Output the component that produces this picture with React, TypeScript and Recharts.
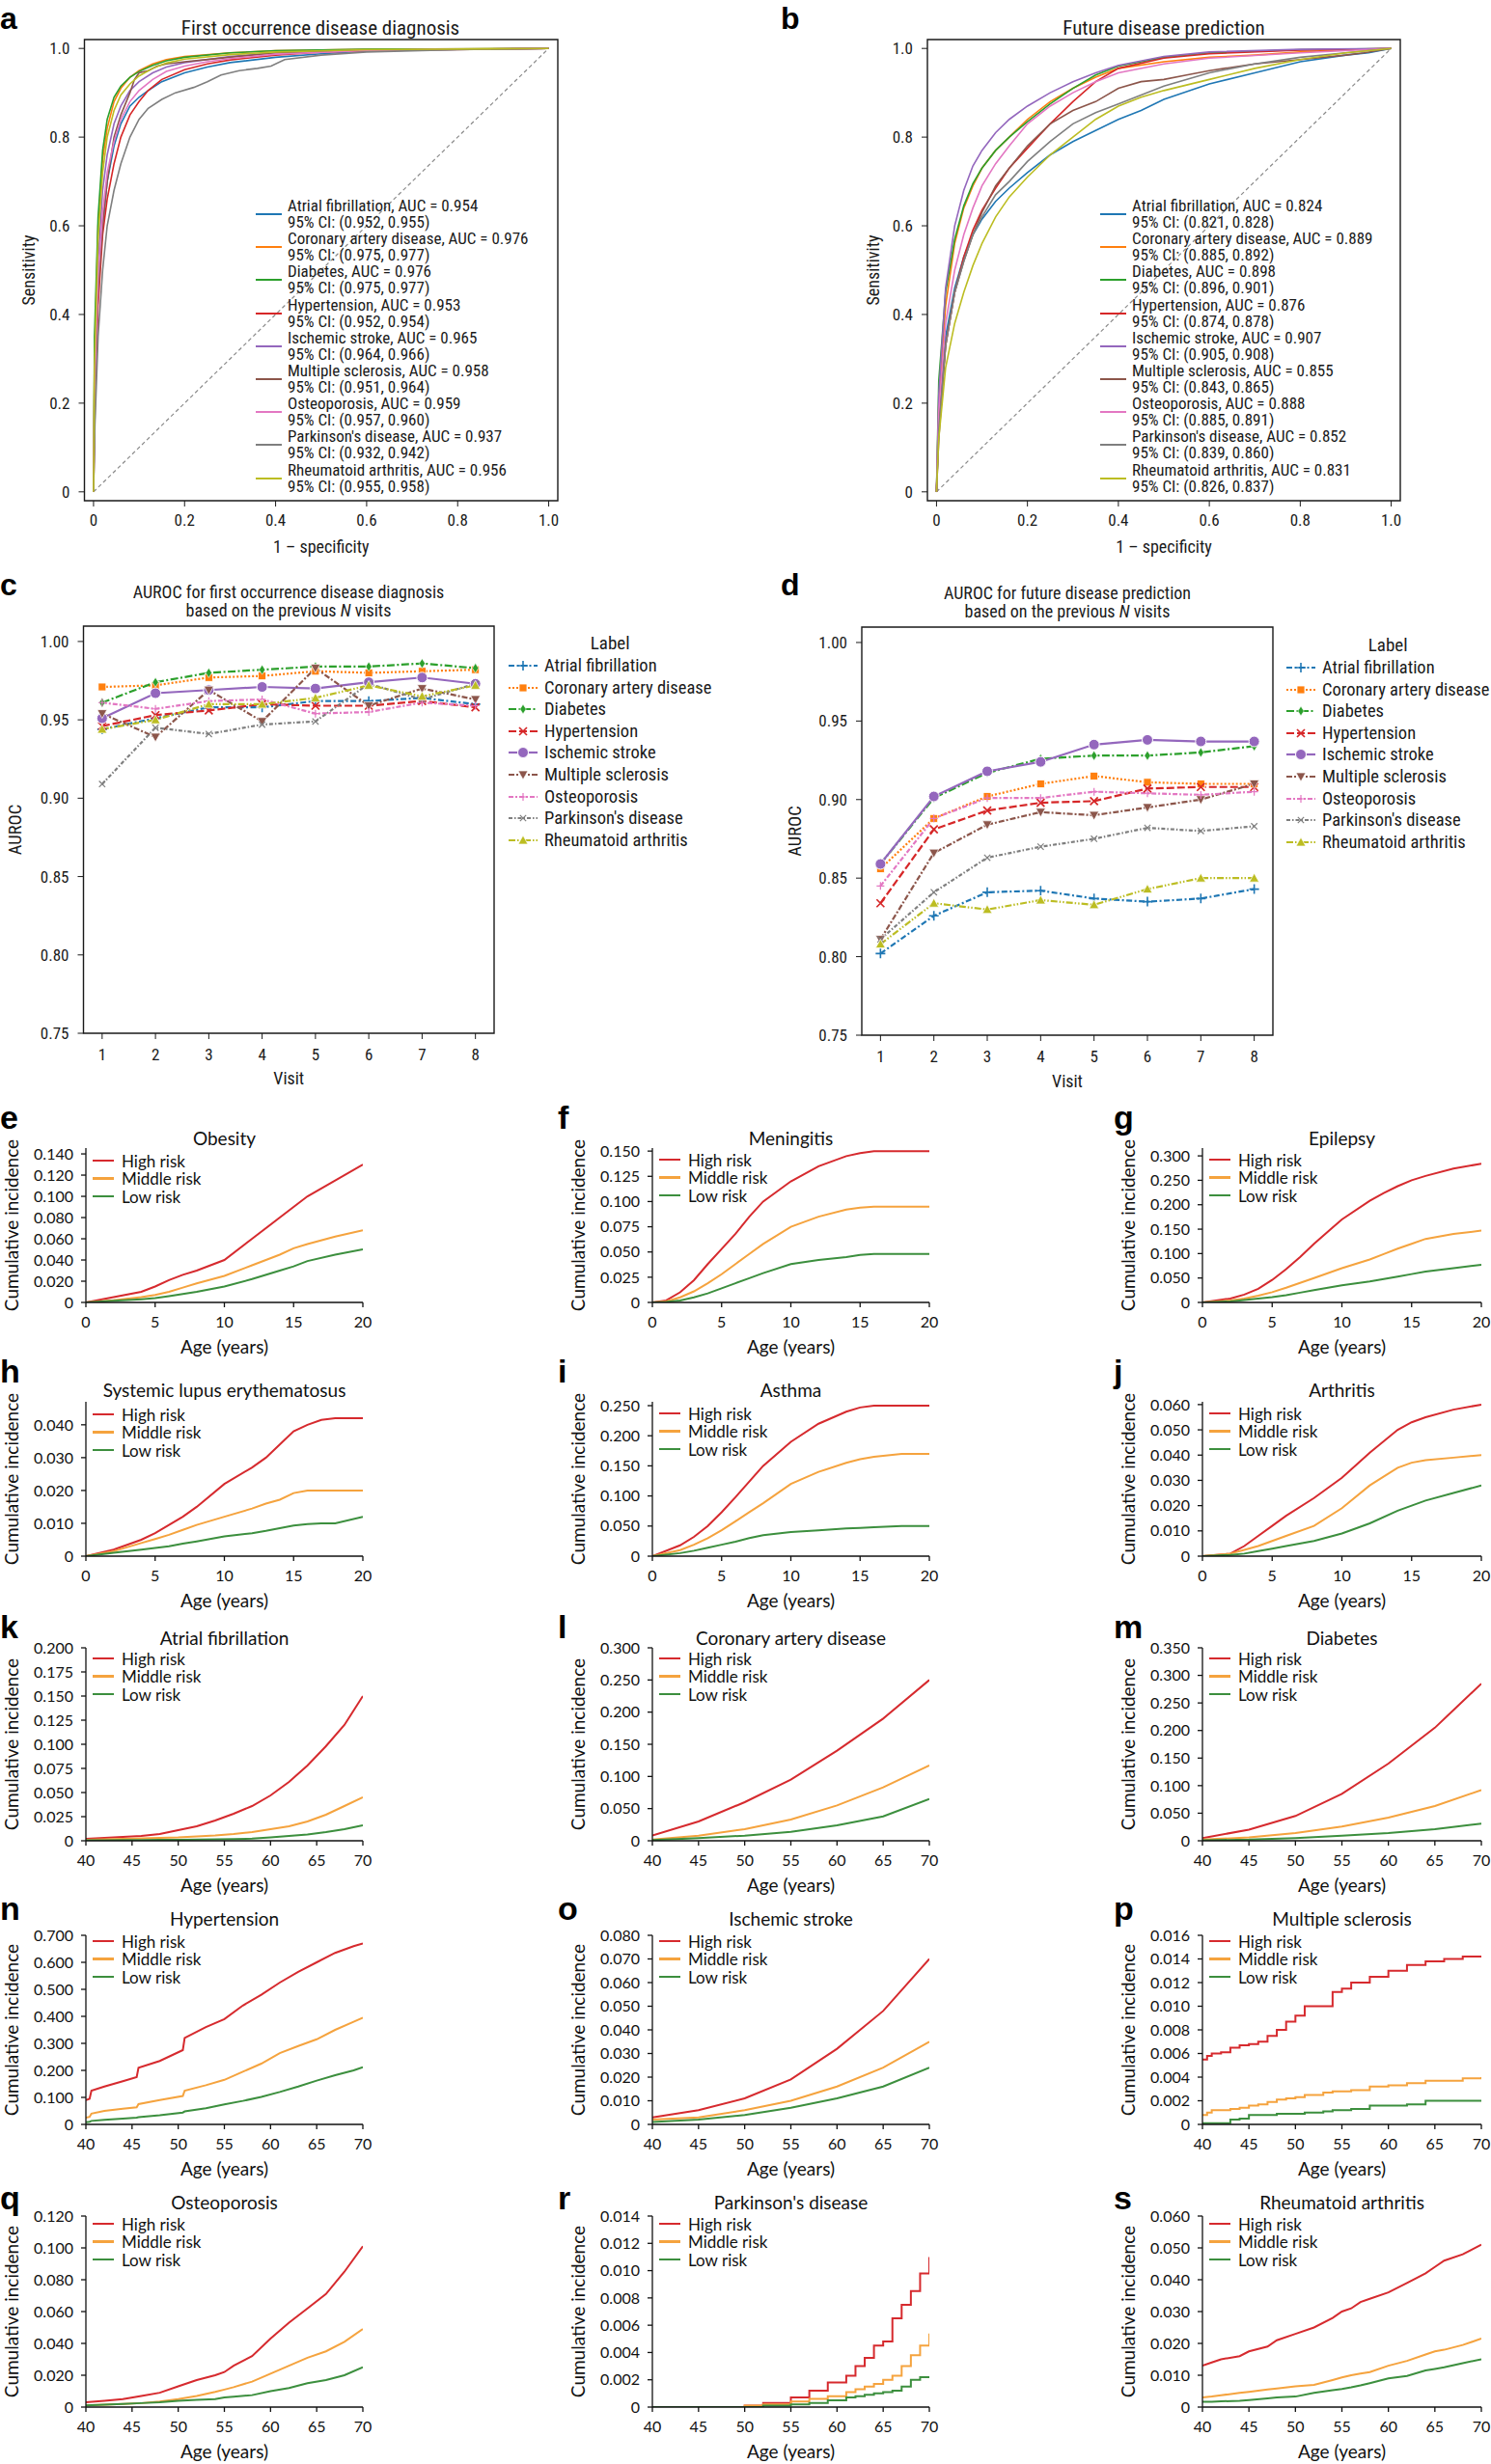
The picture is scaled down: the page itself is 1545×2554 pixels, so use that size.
import React from 'react';
import { LineChart, Line, XAxis, YAxis, ReferenceLine, ReferenceArea, Legend } from 'recharts';

const COND = "'Liberation Sans Narrow', 'Roboto Condensed', Roboto, sans-serif";
const GEO = "Lato, 'Noto Sans', sans-serif";
const INK = '#1a1a1a';

// ---------------- ROC panels ----------------
const diseases = ['Atrial fibrillation', 'Coronary artery disease', 'Diabetes', 'Hypertension', 'Ischemic stroke', 'Multiple sclerosis', 'Osteoporosis', "Parkinson's disease", 'Rheumatoid arthritis'];
const diseaseColors = ['#1f77b4', '#ff7f0e', '#2ca02c', '#d62728', '#9467bd', '#8c564b', '#e377c2', '#7f7f7f', '#bcbd22'];
const firstAuc = ['0.954', '0.976', '0.976', '0.953', '0.965', '0.958', '0.959', '0.937', '0.956'];
const firstCi = ['(0.952, 0.955)', '(0.975, 0.977)', '(0.975, 0.977)', '(0.952, 0.954)', '(0.964, 0.966)', '(0.951, 0.964)', '(0.957, 0.960)', '(0.932, 0.942)', '(0.955, 0.958)'];
const futureAuc = ['0.824', '0.889', '0.898', '0.876', '0.907', '0.855', '0.888', '0.852', '0.831'];
const futureCi = ['(0.821, 0.828)', '(0.885, 0.892)', '(0.896, 0.901)', '(0.874, 0.878)', '(0.905, 0.908)', '(0.843, 0.865)', '(0.885, 0.891)', '(0.839, 0.860)', '(0.826, 0.837)'];
const rocTicks = [0, 0.2, 0.4, 0.6, 0.8, 1.0];
const rocTickLabels = ['0', '0.2', '0.4', '0.6', '0.8', '1.0'];

type Pt = [number, number];
// first occurrence (fpr, tpr)
const firstAF: Pt[] = [[0, 0], [0.002, 0.2], [0.01, 0.45], [0.02, 0.6], [0.03, 0.7], [0.045, 0.78], [0.06, 0.83], [0.08, 0.87], [0.1, 0.89], [0.12, 0.905], [0.15, 0.925], [0.2, 0.945], [0.25, 0.958], [0.3, 0.968], [0.4, 0.98], [0.5, 0.988], [0.6, 0.994], [0.8, 0.998], [1, 1]];
const firstCAD: Pt[] = [[0, 0], [0.002, 0.3], [0.01, 0.6], [0.02, 0.75], [0.03, 0.82], [0.045, 0.88], [0.06, 0.91], [0.08, 0.935], [0.1, 0.95], [0.13, 0.965], [0.16, 0.975], [0.2, 0.982], [0.3, 0.99], [0.4, 0.995], [0.6, 0.998], [1, 1]];
const firstDiab: Pt[] = [[0, 0], [0.002, 0.35], [0.01, 0.62], [0.02, 0.77], [0.03, 0.84], [0.045, 0.89], [0.06, 0.915], [0.08, 0.935], [0.1, 0.948], [0.13, 0.962], [0.16, 0.972], [0.2, 0.98], [0.3, 0.99], [0.4, 0.995], [0.6, 0.998], [1, 1]];
const firstHyp: Pt[] = [[0, 0], [0.003, 0.2], [0.01, 0.42], [0.02, 0.58], [0.03, 0.66], [0.045, 0.74], [0.06, 0.8], [0.08, 0.85], [0.1, 0.88], [0.12, 0.905], [0.15, 0.93], [0.2, 0.952], [0.25, 0.965], [0.3, 0.974], [0.4, 0.985], [0.5, 0.992], [0.7, 0.997], [1, 1]];
const firstIsch: Pt[] = [[0, 0], [0.002, 0.25], [0.01, 0.52], [0.02, 0.68], [0.03, 0.76], [0.045, 0.83], [0.06, 0.87], [0.08, 0.905], [0.1, 0.925], [0.13, 0.945], [0.16, 0.958], [0.2, 0.968], [0.3, 0.982], [0.4, 0.99], [0.6, 0.996], [1, 1]];
const firstMS: Pt[] = [[0, 0], [0.005, 0.3], [0.01, 0.45], [0.02, 0.6], [0.03, 0.7], [0.045, 0.8], [0.06, 0.85], [0.08, 0.9], [0.09, 0.93], [0.1, 0.945], [0.12, 0.95], [0.14, 0.96], [0.16, 0.965], [0.2, 0.97], [0.3, 0.98], [0.4, 0.99], [0.6, 0.995], [1, 1]];
const firstOst: Pt[] = [[0, 0], [0.002, 0.22], [0.01, 0.48], [0.02, 0.63], [0.03, 0.72], [0.045, 0.79], [0.06, 0.84], [0.08, 0.88], [0.1, 0.905], [0.13, 0.93], [0.16, 0.948], [0.2, 0.96], [0.25, 0.97], [0.3, 0.977], [0.4, 0.987], [0.6, 0.995], [1, 1]];
const firstPark: Pt[] = [[0, 0], [0.003, 0.15], [0.01, 0.35], [0.02, 0.5], [0.03, 0.6], [0.045, 0.68], [0.06, 0.74], [0.08, 0.8], [0.1, 0.84], [0.12, 0.865], [0.15, 0.885], [0.18, 0.9], [0.22, 0.912], [0.25, 0.925], [0.28, 0.94], [0.32, 0.95], [0.36, 0.955], [0.39, 0.96], [0.42, 0.975], [0.5, 0.985], [0.6, 0.992], [0.8, 0.997], [1, 1]];
const firstRA: Pt[] = [[0, 0], [0.002, 0.28], [0.01, 0.57], [0.02, 0.72], [0.03, 0.8], [0.045, 0.86], [0.06, 0.895], [0.08, 0.92], [0.1, 0.938], [0.13, 0.955], [0.16, 0.967], [0.2, 0.976], [0.3, 0.986], [0.4, 0.992], [0.6, 0.997], [1, 1]];
// future prediction (fpr, tpr)
const futAF: Pt[] = [[0, 0], [0.005, 0.15], [0.02, 0.35], [0.04, 0.46], [0.06, 0.53], [0.08, 0.58], [0.1, 0.615], [0.13, 0.655], [0.16, 0.685], [0.2, 0.72], [0.25, 0.76], [0.3, 0.79], [0.35, 0.815], [0.4, 0.84], [0.45, 0.86], [0.5, 0.885], [0.6, 0.92], [0.7, 0.945], [0.8, 0.97], [0.9, 0.985], [0.95, 0.99], [1, 1]];
const futCAD: Pt[] = [[0, 0], [0.005, 0.2], [0.02, 0.42], [0.04, 0.56], [0.06, 0.64], [0.08, 0.69], [0.1, 0.73], [0.13, 0.77], [0.16, 0.8], [0.2, 0.84], [0.25, 0.88], [0.3, 0.91], [0.35, 0.935], [0.4, 0.955], [0.5, 0.97], [0.6, 0.98], [0.7, 0.985], [0.8, 0.992], [0.9, 0.997], [1, 1]];
const futDiab: Pt[] = [[0, 0], [0.005, 0.25], [0.02, 0.45], [0.04, 0.57], [0.06, 0.645], [0.08, 0.695], [0.1, 0.73], [0.13, 0.77], [0.16, 0.8], [0.2, 0.835], [0.25, 0.875], [0.3, 0.91], [0.35, 0.94], [0.4, 0.96], [0.5, 0.98], [0.6, 0.99], [0.8, 0.997], [1, 1]];
const futHyp: Pt[] = [[0, 0], [0.005, 0.15], [0.02, 0.33], [0.04, 0.45], [0.06, 0.53], [0.08, 0.59], [0.1, 0.635], [0.13, 0.685], [0.16, 0.73], [0.2, 0.775], [0.25, 0.83], [0.3, 0.88], [0.35, 0.925], [0.4, 0.955], [0.5, 0.978], [0.6, 0.988], [0.8, 0.996], [1, 1]];
const futIsch: Pt[] = [[0, 0], [0.005, 0.22], [0.02, 0.46], [0.04, 0.6], [0.06, 0.68], [0.08, 0.735], [0.1, 0.77], [0.13, 0.81], [0.16, 0.84], [0.2, 0.87], [0.25, 0.9], [0.3, 0.925], [0.35, 0.945], [0.4, 0.962], [0.5, 0.982], [0.6, 0.992], [0.8, 0.998], [1, 1]];
const futMS: Pt[] = [[0, 0], [0.005, 0.12], [0.02, 0.33], [0.04, 0.45], [0.06, 0.52], [0.08, 0.58], [0.1, 0.63], [0.13, 0.69], [0.16, 0.73], [0.2, 0.78], [0.22, 0.8], [0.25, 0.83], [0.3, 0.86], [0.35, 0.88], [0.4, 0.91], [0.45, 0.925], [0.5, 0.93], [0.55, 0.94], [0.6, 0.95], [0.7, 0.965], [0.8, 0.975], [0.9, 0.985], [0.94, 0.99], [1, 1]];
const futOst: Pt[] = [[0, 0], [0.005, 0.18], [0.02, 0.38], [0.04, 0.5], [0.06, 0.58], [0.08, 0.64], [0.1, 0.69], [0.13, 0.74], [0.16, 0.78], [0.2, 0.83], [0.25, 0.87], [0.3, 0.9], [0.35, 0.925], [0.4, 0.945], [0.5, 0.965], [0.6, 0.978], [0.8, 0.99], [1, 1]];
const futPark: Pt[] = [[0, 0], [0.005, 0.14], [0.02, 0.33], [0.04, 0.45], [0.06, 0.52], [0.08, 0.58], [0.1, 0.62], [0.13, 0.67], [0.16, 0.7], [0.2, 0.745], [0.25, 0.79], [0.3, 0.83], [0.35, 0.855], [0.4, 0.875], [0.45, 0.895], [0.5, 0.915], [0.6, 0.945], [0.7, 0.965], [0.8, 0.98], [0.9, 0.99], [1, 1]];
const futRA: Pt[] = [[0, 0], [0.005, 0.12], [0.02, 0.28], [0.04, 0.38], [0.06, 0.45], [0.08, 0.51], [0.1, 0.56], [0.13, 0.62], [0.16, 0.665], [0.2, 0.71], [0.25, 0.76], [0.3, 0.8], [0.35, 0.84], [0.4, 0.87], [0.45, 0.89], [0.5, 0.905], [0.6, 0.93], [0.7, 0.955], [0.8, 0.975], [0.9, 0.99], [1, 1]];
const firstCurves = [firstAF, firstCAD, firstDiab, firstHyp, firstIsch, firstMS, firstOst, firstPark, firstRA];
const futureCurves = [futAF, futCAD, futDiab, futHyp, futIsch, futMS, futOst, futPark, futRA];

// ---------------- AUROC by visit ----------------
const visits = [1, 2, 3, 4, 5, 6, 7, 8];
const vFirstAF = [0.944, 0.951, 0.958, 0.958, 0.962, 0.962, 0.964, 0.960];
const vFirstCAD = [0.971, 0.972, 0.977, 0.978, 0.981, 0.980, 0.981, 0.982];
const vFirstDiab = [0.961, 0.974, 0.980, 0.982, 0.984, 0.984, 0.986, 0.983];
const vFirstHyp = [0.946, 0.953, 0.956, 0.960, 0.959, 0.959, 0.962, 0.958];
const vFirstIsch = [0.951, 0.967, 0.969, 0.971, 0.970, 0.974, 0.977, 0.973];
const vFirstMS = [0.954, 0.939, 0.969, 0.949, 0.983, 0.959, 0.970, 0.963];
const vFirstOst = [0.961, 0.957, 0.962, 0.963, 0.954, 0.955, 0.961, 0.959];
const vFirstPark = [0.909, 0.945, 0.941, 0.947, 0.949, 0.973, 0.963, 0.973];
const vFirstRA = [0.944, 0.950, 0.960, 0.960, 0.964, 0.972, 0.965, 0.972];
const vFutAF = [0.802, 0.826, 0.841, 0.842, 0.837, 0.835, 0.837, 0.843];
const vFutCAD = [0.856, 0.888, 0.902, 0.910, 0.915, 0.911, 0.910, 0.910];
const vFutDiab = [0.859, 0.901, 0.917, 0.926, 0.928, 0.928, 0.930, 0.934];
const vFutHyp = [0.834, 0.881, 0.893, 0.898, 0.899, 0.907, 0.908, 0.908];
const vFutIsch = [0.859, 0.902, 0.918, 0.924, 0.935, 0.938, 0.937, 0.937];
const vFutMS = [0.811, 0.866, 0.884, 0.892, 0.890, 0.895, 0.900, 0.910];
const vFutOst = [0.845, 0.888, 0.901, 0.901, 0.905, 0.904, 0.903, 0.905];
const vFutPark = [0.811, 0.841, 0.863, 0.870, 0.875, 0.882, 0.880, 0.883];
const vFutRA = [0.808, 0.834, 0.830, 0.836, 0.833, 0.843, 0.850, 0.850];
const visitFirst = [vFirstAF, vFirstCAD, vFirstDiab, vFirstHyp, vFirstIsch, vFirstMS, vFirstOst, vFirstPark, vFirstRA];
const visitFuture = [vFutAF, vFutCAD, vFutDiab, vFutHyp, vFutIsch, vFutMS, vFutOst, vFutPark, vFutRA];
const aurocTicks = [0.75, 0.8, 0.85, 0.9, 0.95, 1.0];
const markerKinds = ['plus', 'square', 'diamond', 'x', 'circle', 'tridown', 'plusthin', 'xthin', 'triup'];
const dashPatterns = ['6 2.5 2 2.5', '2 2', '8 2.5 2 2.5', '8 3', '', '6 2 2 2', '5 2 2 2', '4 2 1.5 2', '7 2 1.5 2 1.5 2'];

// ---------------- Cumulative incidence ----------------
const riskNames = ['High risk', 'Middle risk', 'Low risk'];
const riskColors = ['#d62a2e', '#f5a33e', '#3c8f3e'];
const childAgeTicks = [0, 5, 10, 15, 20];
const adultAgeTicks = [40, 45, 50, 55, 60, 65, 70];

const obesityAge = [0, 2, 4, 5, 6, 7, 8, 10, 12, 14, 15, 16, 18, 20];
const obesityHigh = [0, 0.005, 0.010, 0.015, 0.021, 0.026, 0.030, 0.040, 0.060, 0.080, 0.090, 0.100, 0.115, 0.130];
const obesityMid = [0, 0.002, 0.005, 0.007, 0.010, 0.014, 0.018, 0.025, 0.035, 0.045, 0.051, 0.055, 0.062, 0.068];
const obesityLow = [0, 0.0015, 0.003, 0.004, 0.006, 0.008, 0.010, 0.015, 0.022, 0.030, 0.034, 0.039, 0.045, 0.050];
const obesityTicks = [0, 0.02, 0.04, 0.06, 0.08, 0.10, 0.12, 0.14];

const meningAge = [0, 1, 2, 3, 4, 5, 6, 7, 8, 10, 12, 14, 15, 16, 18, 20];
const meningHigh = [0, 0.002, 0.010, 0.022, 0.038, 0.053, 0.068, 0.085, 0.100, 0.120, 0.135, 0.145, 0.148, 0.150, 0.150, 0.150];
const meningMid = [0, 0.001, 0.005, 0.011, 0.019, 0.028, 0.038, 0.048, 0.058, 0.075, 0.085, 0.092, 0.094, 0.095, 0.095, 0.095];
const meningLow = [0, 0.0005, 0.002, 0.005, 0.009, 0.014, 0.019, 0.024, 0.029, 0.038, 0.042, 0.045, 0.047, 0.048, 0.048, 0.048];
const meningTicks = [0, 0.025, 0.05, 0.075, 0.1, 0.125, 0.15];

const epiAge = [0, 2, 3, 4, 5, 6, 7, 8, 10, 12, 13, 14, 15, 16, 18, 20];
const epiHigh = [0, 0.008, 0.016, 0.028, 0.046, 0.068, 0.093, 0.120, 0.170, 0.208, 0.224, 0.238, 0.250, 0.259, 0.274, 0.284];
const epiMid = [0, 0.004, 0.008, 0.014, 0.021, 0.030, 0.040, 0.050, 0.070, 0.088, 0.099, 0.110, 0.120, 0.130, 0.140, 0.147];
const epiLow = [0, 0.002, 0.005, 0.008, 0.011, 0.015, 0.020, 0.025, 0.035, 0.043, 0.048, 0.053, 0.058, 0.063, 0.070, 0.077];
const epiTicks = [0, 0.05, 0.1, 0.15, 0.2, 0.25, 0.3];

const sleAge = [0, 2, 4, 5, 6, 7, 8, 10, 12, 13, 14, 15, 16, 17, 18, 20];
const sleHigh = [0, 0.002, 0.005, 0.007, 0.0095, 0.012, 0.015, 0.022, 0.027, 0.030, 0.034, 0.038, 0.040, 0.0415, 0.042, 0.042];
const sleMid = [0, 0.0015, 0.004, 0.0052, 0.0065, 0.008, 0.0095, 0.012, 0.0145, 0.016, 0.0172, 0.0192, 0.020, 0.020, 0.020, 0.020];
const sleLow = [0, 0.001, 0.002, 0.0025, 0.003, 0.0038, 0.0045, 0.006, 0.007, 0.0077, 0.0085, 0.0093, 0.0098, 0.010, 0.010, 0.012];
const sleTicks = [0, 0.01, 0.02, 0.03, 0.04];

const asthmaAge = [0, 2, 3, 4, 5, 6, 7, 8, 10, 12, 14, 15, 16, 18, 20];
const asthmaHigh = [0, 0.018, 0.032, 0.050, 0.073, 0.098, 0.124, 0.150, 0.190, 0.220, 0.240, 0.247, 0.250, 0.250, 0.250];
const asthmaMid = [0, 0.010, 0.019, 0.030, 0.043, 0.058, 0.073, 0.088, 0.120, 0.140, 0.155, 0.161, 0.165, 0.170, 0.170];
const asthmaLow = [0, 0.005, 0.009, 0.014, 0.019, 0.024, 0.030, 0.035, 0.040, 0.043, 0.046, 0.047, 0.048, 0.050, 0.050];
const asthmaTicks = [0, 0.05, 0.1, 0.15, 0.2, 0.25];

const arthAge = [0, 2, 3, 4, 5, 6, 8, 10, 12, 14, 15, 16, 18, 20];
const arthHigh = [0, 0.001, 0.004, 0.008, 0.012, 0.016, 0.023, 0.031, 0.041, 0.050, 0.053, 0.055, 0.058, 0.060];
const arthMid = [0, 0.001, 0.0025, 0.004, 0.006, 0.008, 0.012, 0.019, 0.028, 0.035, 0.037, 0.038, 0.039, 0.040];
const arthLow = [0, 0.0005, 0.001, 0.002, 0.003, 0.004, 0.006, 0.009, 0.013, 0.018, 0.020, 0.022, 0.025, 0.028];
const arthTicks = [0, 0.01, 0.02, 0.03, 0.04, 0.05, 0.06];

const afAge = [40, 42, 44, 46, 48, 50, 52, 54, 56, 58, 60, 62, 64, 66, 68, 70];
const afHigh = [0.002, 0.003, 0.004, 0.005, 0.007, 0.011, 0.015, 0.021, 0.028, 0.036, 0.047, 0.061, 0.078, 0.098, 0.120, 0.150];
const afMid = [0.001, 0.0015, 0.002, 0.0025, 0.003, 0.0035, 0.0045, 0.0055, 0.007, 0.009, 0.012, 0.015, 0.020, 0.027, 0.036, 0.045];
const afLow = [0.0005, 0.0006, 0.0007, 0.0008, 0.0009, 0.001, 0.0012, 0.0014, 0.0017, 0.0022, 0.0035, 0.005, 0.0065, 0.009, 0.012, 0.016];
const afTicks = [0, 0.025, 0.05, 0.075, 0.1, 0.125, 0.15, 0.175, 0.2];

const cadAge = [40, 45, 50, 55, 60, 65, 70];
const cadHigh = [0.008, 0.030, 0.060, 0.095, 0.140, 0.190, 0.250];
const cadMid = [0.002, 0.008, 0.018, 0.033, 0.055, 0.083, 0.117];
const cadLow = [0.001, 0.004, 0.008, 0.014, 0.024, 0.038, 0.065];
const cadTicks = [0, 0.05, 0.1, 0.15, 0.2, 0.25, 0.3];

const diabAge = [40, 45, 50, 55, 60, 65, 70];
const diabHigh = [0.005, 0.020, 0.045, 0.085, 0.140, 0.205, 0.285];
const diabMid = [0.002, 0.006, 0.014, 0.026, 0.042, 0.063, 0.092];
const diabLow = [0.001, 0.002, 0.005, 0.009, 0.014, 0.021, 0.031];
const diabTicks = [0, 0.05, 0.1, 0.15, 0.2, 0.25, 0.3, 0.35];

const hypAge = [40, 40.4, 40.6, 42, 44, 45.5, 45.7, 48, 50.5, 50.7, 53, 55, 57, 59, 61, 63, 65, 67, 69, 70];
const hypHigh = [0.09, 0.095, 0.125, 0.14, 0.16, 0.175, 0.21, 0.235, 0.275, 0.32, 0.36, 0.39, 0.44, 0.48, 0.525, 0.565, 0.60, 0.635, 0.66, 0.67];
const hypMid = [0.025, 0.028, 0.04, 0.05, 0.058, 0.063, 0.075, 0.09, 0.105, 0.125, 0.145, 0.165, 0.195, 0.225, 0.264, 0.29, 0.315, 0.35, 0.38, 0.395];
const hypLow = [0.008, 0.01, 0.013, 0.017, 0.021, 0.025, 0.027, 0.034, 0.044, 0.048, 0.06, 0.074, 0.087, 0.102, 0.12, 0.14, 0.162, 0.182, 0.2, 0.212];
const hypTicks = [0, 0.1, 0.2, 0.3, 0.4, 0.5, 0.6, 0.7];

const strokeAge = [40, 45, 50, 55, 60, 65, 70];
const strokeHigh = [0.003, 0.006, 0.011, 0.019, 0.032, 0.048, 0.070];
const strokeMid = [0.002, 0.003, 0.006, 0.010, 0.016, 0.024, 0.035];
const strokeLow = [0.001, 0.002, 0.004, 0.007, 0.011, 0.016, 0.024];
const strokeTicks = [0, 0.01, 0.02, 0.03, 0.04, 0.05, 0.06, 0.07, 0.08];

const msAge = [40, 40.5, 41, 42, 43, 44, 45, 46, 47, 48, 49, 50, 51, 53, 54, 55, 56, 58, 60, 62, 64, 66, 68, 70];
const msHigh = [0.0055, 0.0058, 0.006, 0.0061, 0.0065, 0.0067, 0.0068, 0.0070, 0.0075, 0.0080, 0.0087, 0.0092, 0.0100, 0.0100, 0.0112, 0.0115, 0.0120, 0.0125, 0.0130, 0.0135, 0.0138, 0.0140, 0.0142, 0.0142];
const msMid = [0.0008, 0.0010, 0.0012, 0.0012, 0.0013, 0.0014, 0.0016, 0.0017, 0.0019, 0.0021, 0.0022, 0.0023, 0.0025, 0.0027, 0.0028, 0.0028, 0.0029, 0.0032, 0.0033, 0.0035, 0.0037, 0.0037, 0.0039, 0.0040];
const msLow = [0.0001, 0.0001, 0.0001, 0.0001, 0.0004, 0.0005, 0.0008, 0.0008, 0.0008, 0.0009, 0.0009, 0.0009, 0.0010, 0.0011, 0.0012, 0.0012, 0.0013, 0.0016, 0.0016, 0.0017, 0.0020, 0.0020, 0.0020, 0.0020];
const msTicks = [0, 0.002, 0.004, 0.006, 0.008, 0.01, 0.012, 0.014, 0.016];

const ostAge = [40, 42, 44, 46, 48, 50, 52, 54, 55, 56, 58, 60, 62, 64, 66, 68, 70];
const ostHigh = [0.003, 0.004, 0.005, 0.007, 0.009, 0.013, 0.017, 0.020, 0.022, 0.026, 0.032, 0.043, 0.053, 0.062, 0.071, 0.085, 0.101];
const ostMid = [0.001, 0.0015, 0.002, 0.0025, 0.0035, 0.005, 0.007, 0.0095, 0.011, 0.0125, 0.016, 0.021, 0.026, 0.031, 0.035, 0.041, 0.049];
const ostLow = [0.001, 0.0015, 0.002, 0.0025, 0.003, 0.004, 0.0045, 0.005, 0.006, 0.0065, 0.0075, 0.010, 0.012, 0.015, 0.017, 0.020, 0.025];
const ostTicks = [0, 0.02, 0.04, 0.06, 0.08, 0.1, 0.12];

const parkAge = [40, 50, 52, 55, 57, 59, 61, 62, 63, 64, 65, 66, 67, 68, 69, 70];
const parkHigh = [0, 0.0001, 0.0003, 0.0007, 0.0012, 0.0018, 0.0023, 0.003, 0.0036, 0.0045, 0.0048, 0.0065, 0.0075, 0.0085, 0.0098, 0.011];
const parkMid = [0, 0.0001, 0.0002, 0.0004, 0.0006, 0.0008, 0.0011, 0.0013, 0.0015, 0.0017, 0.002, 0.0023, 0.003, 0.0038, 0.0045, 0.0054];
const parkLow = [0, 0, 0.0001, 0.0002, 0.0003, 0.0005, 0.0007, 0.0008, 0.0009, 0.001, 0.0011, 0.0012, 0.0015, 0.002, 0.0022, 0.0022];
const parkTicks = [0, 0.002, 0.004, 0.006, 0.008, 0.01, 0.012, 0.014];

const raAge = [40, 41, 42, 44, 45, 47, 48, 50, 52, 54, 55, 56, 57, 58, 60, 62, 64, 65, 66, 68, 70];
const raHigh = [0.013, 0.014, 0.015, 0.016, 0.0175, 0.019, 0.021, 0.023, 0.025, 0.028, 0.030, 0.031, 0.033, 0.034, 0.036, 0.039, 0.042, 0.044, 0.046, 0.048, 0.051];
const raMid = [0.003, 0.0033, 0.0037, 0.0045, 0.0048, 0.0055, 0.0058, 0.0065, 0.007, 0.0085, 0.0093, 0.010, 0.0105, 0.011, 0.013, 0.0145, 0.0165, 0.0175, 0.018, 0.0195, 0.0215];
const raLow = [0.0017, 0.0017, 0.0018, 0.002, 0.0022, 0.0027, 0.003, 0.0033, 0.0045, 0.0053, 0.0057, 0.0062, 0.0068, 0.0075, 0.009, 0.0098, 0.0115, 0.012, 0.0125, 0.0138, 0.015];
const raTicks = [0, 0.01, 0.02, 0.03, 0.04, 0.05, 0.06];

// layout of the incidence grid (page pixels)
const colLeft = [89, 676, 1246];
const colWidth = [287, 287, 289];
const rowTop = [1190, 1453, 1708, 2006, 2297];
const rowZero = [1350, 1613, 1908, 2202, 2495];
const rowTitleBase = [1187, 1448, 1705, 1996, 2290];
const rowLetterBase = [1170, 1433, 1698, 1990, 2290];
const colLetterX = [0, 578, 1154];

type IncPanel = { letter: string; title: string; col: number; row: number; ages: number[]; high: number[]; mid: number[]; low: number[]; xTicks: number[]; yTicks: number[]; yMax: number; dec: number; legendDy: number; step?: boolean };

const panels: IncPanel[] = [
  { letter: 'e', title: 'Obesity', col: 0, row: 0, ages: obesityAge, high: obesityHigh, mid: obesityMid, low: obesityLow, xTicks: childAgeTicks, yTicks: obesityTicks, yMax: 0.1455, dec: 3, legendDy: 13 },
  { letter: 'f', title: 'Meningitis', col: 1, row: 0, ages: meningAge, high: meningHigh, mid: meningMid, low: meningLow, xTicks: childAgeTicks, yTicks: meningTicks, yMax: 0.153, dec: 3, legendDy: 12 },
  { letter: 'g', title: 'Epilepsy', col: 2, row: 0, ages: epiAge, high: epiHigh, mid: epiMid, low: epiLow, xTicks: childAgeTicks, yTicks: epiTicks, yMax: 0.316, dec: 3, legendDy: 12 },
  { letter: 'h', title: 'Systemic lupus erythematosus', col: 0, row: 1, ages: sleAge, high: sleHigh, mid: sleMid, low: sleLow, xTicks: childAgeTicks, yTicks: sleTicks, yMax: 0.047, dec: 3, legendDy: 13 },
  { letter: 'i', title: 'Asthma', col: 1, row: 1, ages: asthmaAge, high: asthmaHigh, mid: asthmaMid, low: asthmaLow, xTicks: childAgeTicks, yTicks: asthmaTicks, yMax: 0.2564, dec: 3, legendDy: 12 },
  { letter: 'j', title: 'Arthritis', col: 2, row: 1, ages: arthAge, high: arthHigh, mid: arthMid, low: arthLow, xTicks: childAgeTicks, yTicks: arthTicks, yMax: 0.0611, dec: 3, legendDy: 12 },
  { letter: 'k', title: 'Atrial fibrillation', col: 0, row: 2, ages: afAge, high: afHigh, mid: afMid, low: afLow, xTicks: adultAgeTicks, yTicks: afTicks, yMax: 0.2, dec: 3, legendDy: 11 },
  { letter: 'l', title: 'Coronary artery disease', col: 1, row: 2, ages: cadAge, high: cadHigh, mid: cadMid, low: cadLow, xTicks: adultAgeTicks, yTicks: cadTicks, yMax: 0.3, dec: 3, legendDy: 11 },
  { letter: 'm', title: 'Diabetes', col: 2, row: 2, ages: diabAge, high: diabHigh, mid: diabMid, low: diabLow, xTicks: adultAgeTicks, yTicks: diabTicks, yMax: 0.35, dec: 3, legendDy: 11 },
  { letter: 'n', title: 'Hypertension', col: 0, row: 3, ages: hypAge, high: hypHigh, mid: hypMid, low: hypLow, xTicks: adultAgeTicks, yTicks: hypTicks, yMax: 0.7, dec: 3, legendDy: 6 },
  { letter: 'o', title: 'Ischemic stroke', col: 1, row: 3, ages: strokeAge, high: strokeHigh, mid: strokeMid, low: strokeLow, xTicks: adultAgeTicks, yTicks: strokeTicks, yMax: 0.08, dec: 3, legendDy: 6 },
  { letter: 'p', title: 'Multiple sclerosis', col: 2, row: 3, ages: msAge, high: msHigh, mid: msMid, low: msLow, xTicks: adultAgeTicks, yTicks: msTicks, yMax: 0.016, dec: 3, legendDy: 6, step: true },
  { letter: 'q', title: 'Osteoporosis', col: 0, row: 4, ages: ostAge, high: ostHigh, mid: ostMid, low: ostLow, xTicks: adultAgeTicks, yTicks: ostTicks, yMax: 0.12, dec: 3, legendDy: 8 },
  { letter: 'r', title: "Parkinson's disease", col: 1, row: 4, ages: parkAge, high: parkHigh, mid: parkMid, low: parkLow, xTicks: adultAgeTicks, yTicks: parkTicks, yMax: 0.014, dec: 3, legendDy: 8, step: true },
  { letter: 's', title: 'Rheumatoid arthritis', col: 2, row: 4, ages: raAge, high: raHigh, mid: raMid, low: raLow, xTicks: adultAgeTicks, yTicks: raTicks, yMax: 0.06, dec: 3, legendDy: 8 },
];

// ---------------- markers ----------------
function marker(kind: string, color: string, cx: number, cy: number, key?: React.Key) {
  if (cx == null || cy == null || isNaN(cx) || isNaN(cy)) return <g key={key} />;
  switch (kind) {
    case 'plus':
      return <path key={key} d={`M${cx - 5},${cy}H${cx + 5}M${cx},${cy - 5}V${cy + 5}`} stroke={color} strokeWidth={1.6} fill="none" />;
    case 'plusthin':
      return <path key={key} d={`M${cx - 4},${cy}H${cx + 4}M${cx},${cy - 4}V${cy + 4}`} stroke={color} strokeWidth={1.2} fill="none" />;
    case 'square':
      return <rect key={key} x={cx - 4} y={cy - 4} width={8} height={8} fill={color} stroke="#fff" strokeWidth={0.8} />;
    case 'diamond':
      return <path key={key} d={`M${cx},${cy - 5}L${cx + 3.2},${cy}L${cx},${cy + 5}L${cx - 3.2},${cy}Z`} fill={color} stroke="#fff" strokeWidth={0.6} />;
    case 'x':
      return <path key={key} d={`M${cx - 4},${cy - 4}L${cx + 4},${cy + 4}M${cx - 4},${cy + 4}L${cx + 4},${cy - 4}`} stroke={color} strokeWidth={1.7} fill="none" />;
    case 'xthin':
      return <path key={key} d={`M${cx - 3.2},${cy - 3.2}L${cx + 3.2},${cy + 3.2}M${cx - 3.2},${cy + 3.2}L${cx + 3.2},${cy - 3.2}`} stroke={color} strokeWidth={1.2} fill="none" />;
    case 'circle':
      return <circle key={key} cx={cx} cy={cy} r={5.5} fill={color} stroke="#fff" strokeWidth={1} />;
    case 'tridown':
      return <path key={key} d={`M${cx - 5},${cy - 4}L${cx + 5},${cy - 4}L${cx},${cy + 5}Z`} fill={color} stroke="#fff" strokeWidth={0.7} />;
    case 'triup':
      return <path key={key} d={`M${cx - 5},${cy + 4}L${cx + 5},${cy + 4}L${cx},${cy - 5}Z`} fill={color} stroke="#fff" strokeWidth={0.7} />;
    default:
      return <g key={key} />;
  }
}

// ---------------- charts ----------------
const LABEL_OFF = 12;

function RocChart(props: { plotLeft: number; plotTop: number; plotW: number; plotH: number; labelX: number; curves: Pt[][]; auc: string[]; ci: string[]; legendX: number; legendY: number }) {
  const { plotLeft, plotTop, plotW, plotH, labelX, curves, auc, ci, legendX, legendY } = props;
  const chartLeft = labelX - LABEL_OFF;
  const yw = plotLeft - chartLeft;
  const mt = 4, mr = 12, mb = 8, xh = 53.5;
  const chartTop = plotTop - mt;
  const series = curves.map((c) => c.map(([x, y]) => ({ x, y })));
  const fmt = (v: number) => rocTickLabels[rocTicks.indexOf(v)] ?? String(v);
  return (
    <div style={{ position: 'absolute', left: chartLeft, top: chartTop }}>
      <LineChart width={yw + plotW + mr} height={mt + plotH + xh + mb} margin={{ top: mt, right: mr, bottom: mb, left: 0 }}>
        <XAxis type="number" dataKey="x" domain={[-0.02, 1.02]} allowDataOverflow ticks={rocTicks} interval={0} tickFormatter={fmt}
          axisLine={false} tickLine={{ stroke: INK }} tickSize={6} tickMargin={8} height={xh}
          tick={{ fontSize: 17, fill: INK, fontFamily: COND }}
          label={{ value: '1 – specificity', position: 'insideBottom', offset: 0, fontSize: 18, fill: INK, fontFamily: COND }} />
        <YAxis type="number" domain={[-0.02, 1.02]} allowDataOverflow ticks={rocTicks} interval={0} tickFormatter={fmt}
          axisLine={false} tickLine={{ stroke: INK }} tickSize={6} tickMargin={9} width={yw}
          tick={{ fontSize: 17, fill: INK, fontFamily: COND }}
          label={{ value: 'Sensitivity', angle: -90, position: 'insideLeft', offset: LABEL_OFF, fontSize: 18, fill: INK, fontFamily: COND, style: { textAnchor: 'middle' } }} />
        <ReferenceArea x1={-0.02} x2={1.02} y1={-0.02} y2={1.02} fill="none" fillOpacity={0} stroke={INK} strokeWidth={1.4} ifOverflow="visible" />
        <ReferenceLine segment={[{ x: 0, y: 0 }, { x: 1, y: 1 }]} stroke="#8a8a8a" strokeDasharray="4 3" strokeWidth={1.2} />
        {series.map((d, i) => (
          <Line key={diseases[i]} name={diseases[i]} data={d} dataKey="y" type="linear" stroke={diseaseColors[i]} strokeWidth={1.6} dot={false} activeDot={false} isAnimationActive={false} />
        ))}
        <Legend layout="vertical" align="center" verticalAlign="middle"
          wrapperStyle={{ left: legendX - chartLeft, top: legendY - chartTop, width: 'auto' }}
          content={() => (
            <div style={{ fontFamily: COND, fontSize: 17, lineHeight: '17.1px', color: INK, whiteSpace: 'nowrap' }}>
              {diseases.map((name, i) => (
                <div key={name} style={{ display: 'flex', alignItems: 'center', height: 34.2 }}>
                  <div style={{ width: 27, height: 2, background: diseaseColors[i], marginRight: 6 }} />
                  <div>
                    <div>{name}, AUC = {auc[i]}</div>
                    <div>95% CI: {ci[i]}</div>
                  </div>
                </div>
              ))}
            </div>
          )} />
      </LineChart>
    </div>
  );
}

function VisitChart(props: { plotLeft: number; plotTop: number; plotW: number; plotH: number; labelX: number; series: number[][]; legendX: number; legendY: number; xh: number }) {
  const { plotLeft, plotTop, plotW, plotH, labelX, series, legendX, legendY, xh } = props;
  const chartLeft = labelX - LABEL_OFF;
  const yw = plotLeft - chartLeft;
  const mt = 4, mr = 10, mb = 8;
  const chartTop = plotTop - mt;
  const yTop = 1.0098;
  const data = visits.map((v, j) => {
    const row: Record<string, number> = { visit: v };
    series.forEach((s, i) => { row['d' + i] = s[j]; });
    return row;
  });
  return (
    <div style={{ position: 'absolute', left: chartLeft, top: chartTop }}>
      <LineChart width={yw + plotW + mr} height={mt + plotH + xh + mb} data={data} margin={{ top: mt, right: mr, bottom: mb, left: 0 }}>
        <XAxis type="number" dataKey="visit" domain={[0.65, 8.35]} allowDataOverflow ticks={visits} interval={0}
          axisLine={false} tickLine={{ stroke: INK }} tickSize={6} tickMargin={10} height={xh}
          tick={{ fontSize: 17, fill: INK, fontFamily: COND }}
          label={{ value: 'Visit', position: 'insideBottom', offset: 0, fontSize: 18, fill: INK, fontFamily: COND }} />
        <YAxis type="number" domain={[0.75, yTop]} allowDataOverflow ticks={aurocTicks} interval={0} tickFormatter={(v: number) => v.toFixed(2)}
          axisLine={false} tickLine={{ stroke: INK }} tickSize={6} tickMargin={9} width={yw}
          tick={{ fontSize: 17, fill: INK, fontFamily: COND }}
          label={{ value: 'AUROC', angle: -90, position: 'insideLeft', offset: LABEL_OFF, fontSize: 18.5, fill: INK, fontFamily: COND, style: { textAnchor: 'middle' } }} />
        <ReferenceArea x1={0.65} x2={8.35} y1={0.75} y2={yTop} fill="none" fillOpacity={0} stroke={INK} strokeWidth={1.4} ifOverflow="visible" />
        {series.map((_, i) => (
          <Line key={diseases[i]} name={diseases[i]} dataKey={'d' + i} type="linear" stroke={diseaseColors[i]} strokeWidth={2.2}
            strokeDasharray={dashPatterns[i] || undefined} isAnimationActive={false}
            dot={(p: any) => marker(markerKinds[i], diseaseColors[i], p.cx, p.cy, `${i}-${p.index}`)} activeDot={false} />
        ))}
        <Legend layout="vertical" align="center" verticalAlign="middle"
          wrapperStyle={{ left: legendX - chartLeft, top: legendY - chartTop, width: 'auto' }}
          content={() => (
            <div style={{ fontFamily: COND, fontSize: 18.5, color: INK, whiteSpace: 'nowrap' }}>
              <div style={{ height: 22.7, lineHeight: '22.7px', textAlign: 'center', fontSize: 19 }}>Label</div>
              {diseases.map((name, i) => (
                <div key={name} style={{ display: 'flex', alignItems: 'center', height: 22.6 }}>
                  <svg width={30} height={14} style={{ marginRight: 7 }}>
                    <line x1={0} y1={7} x2={30} y2={7} stroke={diseaseColors[i]} strokeWidth={2.2} strokeDasharray={dashPatterns[i] || undefined} />
                    {marker(markerKinds[i], diseaseColors[i], 15, 7)}
                  </svg>
                  <span>{name}</span>
                </div>
              ))}
            </div>
          )} />
      </LineChart>
    </div>
  );
}

function IncidenceChart({ p }: { p: IncPanel }) {
  const plotLeft = colLeft[p.col];
  const plotW = colWidth[p.col];
  const plotTop = rowTop[p.row];
  const plotH = rowZero[p.row] - plotTop;
  const yw = 77 + LABEL_OFF, mt = 10, mr = 16, mb = 8, xh = 53;
  const chartLeft = plotLeft - yw;
  const chartTop = plotTop - mt;
  const data = p.ages.map((a, i) => ({ age: a, high: p.high[i], mid: p.mid[i], low: p.low[i] }));
  const lineType = p.step ? 'stepAfter' : 'linear';
  const keys = ['high', 'mid', 'low'];
  return (
    <div style={{ position: 'absolute', left: chartLeft, top: chartTop }}>
      <LineChart width={yw + plotW + mr} height={mt + plotH + xh + mb} data={data} margin={{ top: mt, right: mr, bottom: mb, left: 0 }}>
        <XAxis type="number" dataKey="age" domain={[p.xTicks[0], p.xTicks[p.xTicks.length - 1]]} allowDataOverflow ticks={p.xTicks} interval={0}
          axisLine={{ stroke: '#111', strokeWidth: 1.3 }} tickLine={{ stroke: '#111', strokeWidth: 1.3 }} tickSize={5} tickMargin={10} height={xh}
          tick={{ fontSize: 16, fill: '#111', fontFamily: GEO }}
          label={{ value: 'Age (years)', position: 'insideBottom', offset: 0, fontSize: 19, fill: '#111', fontFamily: GEO }} />
        <YAxis type="number" domain={[0, p.yMax]} allowDataOverflow ticks={p.yTicks} interval={0}
          tickFormatter={(v: number) => (v === 0 ? '0' : v.toFixed(p.dec))}
          axisLine={{ stroke: '#111', strokeWidth: 1.3 }} tickLine={{ stroke: '#111', strokeWidth: 1.3 }} tickSize={5} tickMargin={8} width={yw}
          tick={{ fontSize: 16, fill: '#111', fontFamily: GEO }}
          label={{ value: 'Cumulative incidence', angle: -90, position: 'insideLeft', offset: LABEL_OFF, fontSize: 19, fill: '#111', fontFamily: GEO, style: { textAnchor: 'middle' } }} />
        {keys.map((k, i) => (
          <Line key={k} name={riskNames[i]} dataKey={k} type={lineType as any} stroke={riskColors[i]} strokeWidth={2} dot={false} activeDot={false} isAnimationActive={false} />
        ))}
        <Legend layout="vertical" align="center" verticalAlign="middle"
          wrapperStyle={{ left: yw + 7, top: mt + p.legendDy - 9.25, width: 'auto' }}
          content={() => (
            <div style={{ fontFamily: GEO, fontSize: 17, color: '#111', whiteSpace: 'nowrap' }}>
              {riskNames.map((n, i) => (
                <div key={n} style={{ display: 'flex', alignItems: 'center', height: 18.5 }}>
                  <div style={{ width: 22, height: 2.2, background: riskColors[i], marginRight: 8 }} />
                  <span>{n}</span>
                </div>
              ))}
            </div>
          )} />
      </LineChart>
    </div>
  );
}

function Overlay() {
  const letterStyle = { fontFamily: "'Liberation Sans', Arial, sans-serif", fontWeight: 900, fontSize: 34, fill: '#000' } as const;
  const topLetterStyle = { ...letterStyle, fontSize: 32 } as const;
  const topLetters: [string, number, number][] = [['a', 0, 30], ['b', 809, 30], ['c', 0, 617], ['d', 809, 617]];
  const titleStyle = { fontFamily: COND, fontSize: 21, fill: INK } as const;
  const titleStyle2 = { fontFamily: COND, fontSize: 18, fill: INK } as const;
  return (
    <svg width={1545} height={2554} style={{ position: 'absolute', left: 0, top: 0, pointerEvents: 'none' }}>
      {topLetters.map(([t, x, y]) => <text key={t} x={x} y={y} style={topLetterStyle}>{t}</text>)}
      {panels.map((p) => (
        <text key={p.letter} x={colLetterX[p.col]} y={rowLetterBase[p.row]} style={letterStyle}>{p.letter}</text>
      ))}
      <text x={332} y={36} textAnchor="middle" style={titleStyle}>First occurrence disease diagnosis</text>
      <text x={1206} y={36} textAnchor="middle" style={titleStyle}>Future disease prediction</text>
      <text x={299} y={620} textAnchor="middle" style={titleStyle2}>AUROC for first occurrence disease diagnosis</text>
      <text x={299} y={638.5} textAnchor="middle" style={titleStyle2}>based on the previous <tspan fontStyle="italic">N</tspan> visits</text>
      <text x={1106} y={621} textAnchor="middle" style={titleStyle2}>AUROC for future disease prediction</text>
      <text x={1106} y={639.5} textAnchor="middle" style={titleStyle2}>based on the previous <tspan fontStyle="italic">N</tspan> visits</text>
      {panels.map((p) => (
        <text key={'t' + p.letter} x={colLeft[p.col] + colWidth[p.col] / 2} y={rowTitleBase[p.row]} textAnchor="middle" style={{ fontFamily: GEO, fontSize: 19, fill: '#111' }}>{p.title}</text>
      ))}
    </svg>
  );
}

export default function App() {
  return (
    <div style={{ position: 'absolute', left: 0, top: 0, width: 1545, height: 2554, background: '#fff', overflow: 'hidden' }}>
      <RocChart plotLeft={87.5} plotTop={41} plotW={490.5} plotH={478} labelX={30} curves={firstCurves} auc={firstAuc} ci={firstCi} legendX={265} legendY={205} />
      <RocChart plotLeft={961} plotTop={41} plotW={490} plotH={478} labelX={905} curves={futureCurves} auc={futureAuc} ci={futureCi} legendX={1140} legendY={205} />
      <VisitChart plotLeft={86.5} plotTop={649} plotW={425.5} plotH={422} labelX={15} series={visitFirst} legendX={527} legendY={656} xh={53} />
      <VisitChart plotLeft={893} plotTop={650} plotW={426} plotH={423} labelX={823} series={visitFuture} legendX={1333} legendY={658} xh={54} />
      {panels.map((p) => <IncidenceChart key={p.letter} p={p} />)}
      <Overlay />
    </div>
  );
}
